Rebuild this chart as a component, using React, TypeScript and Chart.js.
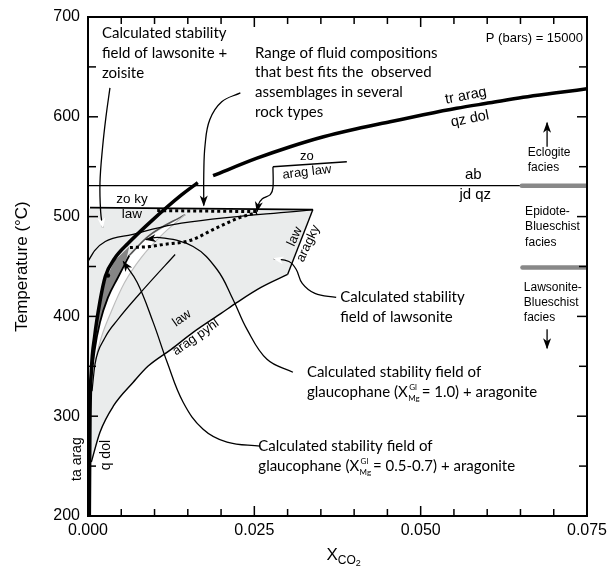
import React, { useEffect, useRef } from 'react';
import { Chart, registerables } from 'chart.js';

Chart.register(...registerables);

type Pt = [number, number];

// ---- axes ----
const xRange: Pt = [0, 0.075];
const tRange: Pt = [200, 700];
const xTickValues = [0, 0.025, 0.05, 0.075];
const xTickLabels = ['0.000', '0.025', '0.050', '0.075'];
const xMinorStep = 0.005;
const tTickValues = [200, 300, 400, 500, 600, 700];
const tTickLabels = ['200', '300', '400', '500', '600', '700'];
const tMinorStep = 50;

// ---- fields (x = X_CO2, y = T in °C) ----
const lawsoniteField: Pt[] = [
  [0, 254], [0, 508], [0.0338, 507], [0.03, 442], [0.026, 429], [0.0224, 414], [0.02, 403],
  [0.0158, 384], [0.0125, 367], [0.009, 350], [0.0068, 334], [0.0038, 310], [0.0018, 284], [0.0005, 254],
];
const glaucLensDark: Pt[] = [
  [0.0004, 330], [0.0008, 368], [0.0016, 405], [0.0026, 436], [0.004, 456], [0.0062, 470],
  [0.0058, 458], [0.0045, 440], [0.003, 420], [0.0018, 395], [0.001, 368], [0.0005, 338],
];
const glaucWedgeWhite: Pt[] = [
  [0.0005, 334], [0.001, 364], [0.0018, 392], [0.003, 417], [0.0045, 438], [0.0062, 460],
  [0.009, 479], [0.0146, 502], [0.011, 481], [0.008, 459], [0.0055, 434], [0.0035, 405],
  [0.002, 379], [0.001, 353], [0.0006, 336],
];

// ---- reaction curves ----
const lawAragPyhl: Pt[] = [
  [0.0005, 254], [0.0018, 284], [0.0038, 310], [0.0068, 334], [0.009, 350], [0.0125, 367],
  [0.0158, 384], [0.02, 403], [0.0224, 414], [0.026, 429], [0.03, 442],
];
const lawAragKy: Pt[] = [[0.03, 442], [0.0338, 507]];
const zoKyLaw: Pt[] = [[0.0003, 509], [0.0338, 507]];
const zoAragLaw: Pt[] = [[0.0278, 550], [0.0389, 555]];
const abJdQz: Pt[] = [[0, 531], [0.075, 531]];
const trAragLower: Pt[] = [
  [0.0002, 200], [0.0003, 300], [0.0005, 345], [0.001, 380], [0.0018, 415], [0.0026, 440],
  [0.004, 458], [0.006, 473], [0.0096, 496], [0.0141, 522], [0.0165, 534],
];
const trAragUpper: Pt[] = [
  [0.0188, 541], [0.0254, 558.5], [0.0304, 570], [0.0354, 580], [0.0404, 588], [0.0454, 595],
  [0.0504, 602], [0.0554, 608.5], [0.0604, 614], [0.0654, 619.5], [0.0704, 624], [0.075, 628],
];
const lawZoArc: Pt[] = [[0, 455], [0.001, 466], [0.0026, 475], [0.0066, 482], [0.0128, 492], [0.0338, 507]];
const glaucEdgeB: Pt[] = [[0.0005, 336], [0.001, 366], [0.0018, 394], [0.003, 419], [0.0045, 439], [0.0062, 461]];
const glaucWedgeTop: Pt[] = [[0.0062, 461], [0.009, 480], [0.0146, 502]];
const glaucWedgeLow: Pt[] = [[0.0006, 336], [0.001, 353], [0.002, 379], [0.0035, 405], [0.0055, 434], [0.008, 459], [0.011, 481], [0.0146, 502]];
const glaucOuter: Pt[] = [[0.0006, 325], [0.00105, 352], [0.0025, 378], [0.0045, 397], [0.0086, 429], [0.0131, 462]];
const fluidTop: Pt[] = [[0.0104, 506], [0.0254, 505]];
const fluidLow: Pt[] = [[0.0063, 469], [0.0093, 470], [0.0113, 472], [0.0153, 476], [0.0194, 489], [0.0228, 499], [0.0254, 504]];
const faciesEclogite: Pt[] = [[0.0652, 531], [0.075, 531]];
const faciesLawsonite: Pt[] = [[0.0653, 449], [0.075, 449]];

// ---- annotation leader curves ----
const leaderLawZo: Pt[] = [[0.0033, 629], [0.0027, 600], [0.0022, 570], [0.0018, 534], [0.0019, 505], [0.0022, 489]];
const leaderRange: Pt[] = [[0.0229, 624], [0.0201, 615], [0.0183, 597], [0.0176, 572], [0.0174, 542], [0.0174, 511]];
const leaderLaw: Pt[] = [[0.0373, 419], [0.0341, 423], [0.0322, 433], [0.0313, 447], [0.0302, 455], [0.0279, 458]];
const leaderGl1: Pt[] = [[0.0308, 344], [0.0269, 357], [0.0239, 387], [0.0218, 417], [0.0194, 447], [0.0158, 470], [0.0108, 479], [0.0087, 477]];
const leaderGl2: Pt[] = [[0.0259, 270], [0.0209, 274], [0.0173, 287], [0.0143, 314], [0.0119, 354], [0.0098, 394], [0.0074, 434], [0.0053, 455]];
const leaderBrace: Pt[] = [[0.0278, 550], [0.0278, 529], [0.0274, 522], [0.0262, 518], [0.0256, 512], [0.0254, 505]];
const arrowEclogite: Pt[] = [[0.069, 570], [0.069, 594]];
const arrowLawsonite: Pt[] = [[0.069, 387], [0.069, 368]];

const SANS = '"Liberation Sans", Arial, Helvetica, sans-serif';
const HUM = 'Lato, "Open Sans", sans-serif';
const HUM_SIZE = 15;

type Note = { lines: string[]; x: number; t: number; align?: CanvasTextAlign; font: string; rot?: number; lh?: number };
const notes: Note[] = [
  { lines: ['Calculated stability', 'field of lawsonite +', 'zoisite'], x: 0.0021, t: 684, align: 'left', font: `${HUM_SIZE}px ${HUM}`, lh: 20 },
  { lines: ['Range of fluid compositions', 'that best fits the  observed', 'assemblages in several', 'rock types'], x: 0.0251, t: 664, align: 'left', font: `${HUM_SIZE}px ${HUM}`, lh: 19.7 },
  { lines: ['P (bars) = 15000'], x: 0.0744, t: 679, align: 'right', font: `13px ${SANS}` },
  { lines: ['tr arag'], x: 0.0568, t: 621, font: `14.5px ${SANS}`, rot: -11 },
  { lines: ['qz dol'], x: 0.0574, t: 598, font: `14.5px ${SANS}`, rot: -11 },
  { lines: ['zo'], x: 0.0329, t: 560, font: `13px ${SANS}` },
  { lines: ['arag law'], x: 0.0329, t: 544.5, font: `13px ${SANS}`, rot: -7 },
  { lines: ['ab'], x: 0.0579, t: 542, font: `15px ${SANS}` },
  { lines: ['jd qz'], x: 0.0582, t: 522, font: `15px ${SANS}` },
  { lines: ['zo ky'], x: 0.0066, t: 517, font: `13.5px ${SANS}` },
  { lines: ['law'], x: 0.0066, t: 502, font: `13.5px ${SANS}` },
  { lines: ['Eclogite', 'facies'], x: 0.0661, t: 564, align: 'left', font: `12px ${SANS}`, lh: 15 },
  { lines: ['Epidote-', 'Blueschist', 'facies'], x: 0.0657, t: 505, align: 'left', font: `12px ${SANS}`, lh: 15.5 },
  { lines: ['Lawsonite-', 'Blueschist', 'facies'], x: 0.0655, t: 429, align: 'left', font: `12px ${SANS}`, lh: 15 },
  { lines: ['Calculated stability', 'field of lawsonite'], x: 0.0379, t: 419, align: 'left', font: `${HUM_SIZE}px ${HUM}`, lh: 20 },
  { lines: ['Calculated stability field of'], x: 0.0329, t: 344, align: 'left', font: `${HUM_SIZE}px ${HUM}` },
  { lines: ['Calculated stability field of'], x: 0.0256, t: 270, align: 'left', font: `${HUM_SIZE}px ${HUM}` },
  { lines: ['law'], x: 0.0141, t: 398, font: `13px ${SANS}`, rot: -35 },
  { lines: ['arag pyhl'], x: 0.0162, t: 379, font: `13px ${SANS}`, rot: -35 },
  { lines: ['law'], x: 0.0311, t: 480, font: `13px ${SANS}`, rot: -65 },
  { lines: ['aragky'], x: 0.0331, t: 473, font: `13px ${SANS}`, rot: -65 },
  { lines: ['ta arag'], x: -0.0017, t: 257, font: `14px ${SANS}`, rot: -90 },
  { lines: ['q dol'], x: 0.0027, t: 261, font: `14px ${SANS}`, rot: -90 },
];
const glaucNotes = [
  { x: 0.0329, t: 324, value: '1.0' },
  { x: 0.0256, t: 250, value: '0.5-0.7' },
];
const heads: { pts: Pt[]; fill: string }[] = [
  { pts: leaderLawZo, fill: '#fff' },
  { pts: leaderRange, fill: '#000' },
  { pts: leaderLaw, fill: '#fff' },
  { pts: leaderGl1, fill: '#000' },
  { pts: leaderGl2, fill: '#000' },
  { pts: leaderBrace, fill: '#000' },
  { pts: arrowEclogite, fill: '#000' },
  { pts: arrowLawsonite, fill: '#000' },
];

const toXY = (pts: Pt[]) => pts.map(([x, y]) => ({ x, y }));
const line = (pts: Pt[], o: any = {}) => ({
  data: toXY(pts), borderColor: '#000', borderWidth: 1.4, pointRadius: 0, fill: false,
  cubicInterpolationMode: 'monotone', order: 5, ...o,
});
const shape = (pts: Pt[], color: string, order: number) => ({
  data: toXY(pts), borderColor: 'rgba(0,0,0,0)', borderWidth: 0, backgroundColor: color,
  fill: 'shape', pointRadius: 0, tension: 0, order,
});
const curvy = (pts: Pt[], o: any = {}) => ({
  data: toXY(pts), borderColor: '#000', borderWidth: 1.3, pointRadius: 0, fill: false, tension: 0.4, order: 1, ...o,
});

const overlay = {
  id: 'overlay',
  afterDatasetsDraw(chart: any) {
    const ctx: CanvasRenderingContext2D = chart.ctx;
    const xs = chart.scales.x, ys = chart.scales.y;
    const px = (v: number) => xs.getPixelForValue(v);
    const py = (v: number) => ys.getPixelForValue(v);
    const { left, right, top, bottom } = chart.chartArea;
    ctx.save();

    // arrowheads
    for (const h of heads) {
      const n = h.pts.length;
      const x1 = px(h.pts[n - 2][0]), y1 = py(h.pts[n - 2][1]);
      const x2 = px(h.pts[n - 1][0]), y2 = py(h.pts[n - 1][1]);
      const a = Math.atan2(y2 - y1, x2 - x1);
      ctx.save();
      ctx.translate(x2, y2);
      ctx.rotate(a);
      ctx.beginPath();
      ctx.moveTo(1, 0);
      ctx.lineTo(-10, -4);
      ctx.lineTo(-7, 0);
      ctx.lineTo(-10, 4);
      ctx.closePath();
      ctx.fillStyle = h.fill;
      ctx.fill();
      ctx.restore();
    }

    // black dot in glaucophane field
    ctx.fillStyle = '#000';
    ctx.beginPath();
    ctx.arc(px(0.003), py(441), 2.2, 0, Math.PI * 2);
    ctx.fill();

    // frame
    ctx.strokeStyle = '#000';
    ctx.lineWidth = 2;
    ctx.strokeRect(left, top, right - left, bottom - top);

    // ticks
    ctx.lineWidth = 1.5;
    const seg = (a: number, b: number, c: number, d: number) => { ctx.beginPath(); ctx.moveTo(a, b); ctx.lineTo(c, d); ctx.stroke(); };
    for (let v = xRange[0]; v <= xRange[1] + 1e-9; v += xMinorStep) {
      const x = px(v);
      const major = xTickValues.some((t) => Math.abs(t - v) < 1e-9);
      const L = major ? 10 : 7;
      if (v > 1e-9 && v < xRange[1] - 1e-9) { seg(x, bottom, x, bottom - L); seg(x, top, x, top + L); }
    }
    for (let v = tRange[0]; v <= tRange[1] + 1e-9; v += tMinorStep) {
      const y = py(v);
      const major = tTickValues.includes(v);
      const L = major ? 10 : 8;
      if (v > tRange[0] && v < tRange[1]) { seg(left, y, left + L, y); seg(right, y, right - L, y); }
    }

    // tick labels
    ctx.fillStyle = '#000';
    ctx.font = `16px ${SANS}`;
    ctx.textBaseline = 'middle';
    ctx.textAlign = 'right';
    tTickValues.forEach((v, i) => ctx.fillText(tTickLabels[i], left - 8, py(v)));
    ctx.textAlign = 'center';
    xTickValues.forEach((v, i) => ctx.fillText(xTickLabels[i], px(v), bottom + 15));

    // axis titles
    ctx.save();
    ctx.translate(22, (top + bottom) / 2);
    ctx.rotate(-Math.PI / 2);
    ctx.font = `17px ${SANS}`;
    ctx.fillText('Temperature (\u00B0C)', 0, 0);
    ctx.restore();
    ctx.textAlign = 'left';
    const tx = (left + right) / 2 - 11;
    ctx.font = `17px ${SANS}`;
    ctx.fillText('X', tx, bottom + 39);
    const wX = ctx.measureText('X').width;
    ctx.font = `12px ${SANS}`;
    ctx.fillText('CO', tx + wX, bottom + 45);
    const wCO = ctx.measureText('CO').width;
    ctx.font = `9px ${SANS}`;
    ctx.fillText('2', tx + wX + wCO, bottom + 48);

    // notes
    for (const n of notes) {
      ctx.save();
      ctx.font = n.font;
      ctx.textAlign = n.align || 'center';
      ctx.textBaseline = 'middle';
      ctx.translate(px(n.x), py(n.t));
      if (n.rot) ctx.rotate((n.rot * Math.PI) / 180);
      n.lines.forEach((s, i) => ctx.fillText(s, 0, i * (n.lh || 20)));
      ctx.restore();
    }
    for (const g of glaucNotes) {
      let x = px(g.x);
      const y = py(g.t);
      ctx.textAlign = 'left';
      ctx.textBaseline = 'middle';
      ctx.font = `${HUM_SIZE}px ${HUM}`;
      ctx.fillText('glaucophane (X', x, y);
      x += ctx.measureText('glaucophane (X').width + 0.5;
      ctx.font = `8px ${HUM}`;
      ctx.fillText('Gl', x + 1, y - 5);
      ctx.fillText('Mg', x, y + 6);
      x += Math.max(ctx.measureText('Gl').width + 1, ctx.measureText('Mg').width) + 2;
      ctx.font = `${HUM_SIZE}px ${HUM}`;
      ctx.fillText(`= ${g.value}) + aragonite`, x, y);
    }
    ctx.restore();
  },
};

export default function App() {
  const ref = useRef<HTMLCanvasElement>(null);
  useEffect(() => {
    const chart = new Chart(ref.current as HTMLCanvasElement, {
      type: 'line',
      data: {
        datasets: [
          shape(lawsoniteField, '#eaecec', 30),
          shape(glaucWedgeWhite, '#ffffff', 25),
          shape(glaucLensDark, '#858585', 24),
          line(lawAragPyhl),
          line(lawAragKy, { cubicInterpolationMode: 'default', tension: 0 }),
          line(zoKyLaw, { borderWidth: 1.8 }),
          line(zoAragLaw),
          line(abJdQz, { borderWidth: 1.4 }),
          line(lawZoArc, { borderWidth: 1.3 }),
          line(glaucOuter, { borderWidth: 1.2 }),
          line(glaucWedgeLow, { borderColor: '#bdbdbd', borderWidth: 1.2 }),
          line(glaucWedgeTop, { borderColor: '#555', borderWidth: 1.6 }),
          line(glaucEdgeB, { borderWidth: 1.8 }),
          line(trAragLower, { borderWidth: 3.5, order: 3 }),
          line(trAragUpper, { borderWidth: 3.5, order: 3 }),
          line(fluidTop, { borderWidth: 3, borderDash: [3, 3], order: 2 }),
          line(fluidLow, { borderWidth: 3, borderDash: [3, 3], order: 2 }),
          line(faciesEclogite, { borderColor: '#888', borderWidth: 4.5, borderCapStyle: 'round', order: 2 }),
          line(faciesLawsonite, { borderColor: '#888', borderWidth: 4.5, borderCapStyle: 'round', order: 2 }),
          curvy(leaderLawZo),
          curvy(leaderRange),
          curvy(leaderLaw),
          curvy(leaderGl1),
          curvy(leaderGl2),
          curvy(leaderBrace, { tension: 0.3 }),
          curvy(arrowEclogite, { tension: 0 }),
          curvy(arrowLawsonite, { tension: 0 }),
        ] as any,
      },
      options: {
        animation: false,
        responsive: false,
        events: [],
        layout: { padding: { left: 88, right: 26, top: 17, bottom: 57 } },
        scales: {
          x: { type: 'linear', min: xRange[0], max: xRange[1], display: false },
          y: { type: 'linear', min: tRange[0], max: tRange[1], display: false },
        },
        plugins: { legend: { display: false }, tooltip: { enabled: false } },
      },
      plugins: [overlay],
    });
    return () => chart.destroy();
  }, []);
  return (
    <div style={{ position: 'fixed', left: 0, top: 0, width: 613, height: 573, background: '#fff' }}>
      <canvas ref={ref} width={613} height={573} style={{ width: 613, height: 573, display: 'block' }} />
    </div>
  );
}
